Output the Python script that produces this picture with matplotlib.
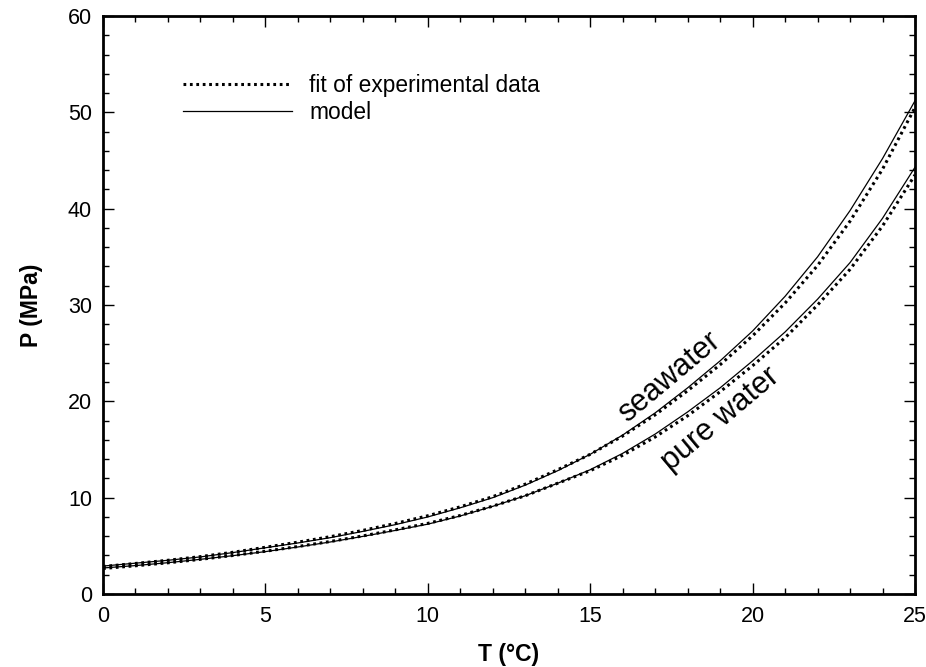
import matplotlib
matplotlib.use("Agg")
import matplotlib.pyplot as plt
from matplotlib.ticker import MultipleLocator

plt.rcParams['font.family'] = ['Liberation Sans', 'DejaVu Sans']

# Data
temperature = [0, 1, 2, 3, 4, 5, 6, 7, 8, 9, 10, 11, 12, 13, 14, 15,
               16, 17, 18, 19, 20, 21, 22, 23, 24, 25]
seawater_model = [2.90, 3.20, 3.50, 3.85, 4.30, 4.80, 5.30, 5.85, 6.50, 7.20,
                  8.00, 8.95, 10.0, 11.3, 12.8, 14.5, 16.5, 18.8, 21.4, 24.2,
                  27.3, 30.9, 35.0, 39.8, 45.2, 51.2]
seawater_fit = [2.85, 3.17, 3.50, 3.88, 4.33, 4.85, 5.38, 5.95, 6.60, 7.32,
                8.12, 9.05, 10.1, 11.4, 12.9, 14.5, 16.4, 18.6, 21.1, 23.8,
                26.8, 30.2, 34.1, 38.7, 44.1, 50.5]
pure_model = [2.70, 2.95, 3.25, 3.60, 3.98, 4.40, 4.88, 5.40, 5.98, 6.60,
              7.25, 8.10, 9.10, 10.2, 11.5, 12.9, 14.6, 16.6, 18.9, 21.4,
              24.2, 27.2, 30.6, 34.4, 39.0, 44.3]
pure_fit = [2.65, 2.93, 3.24, 3.60, 4.00, 4.44, 4.93, 5.45, 6.03, 6.66,
            7.33, 8.15, 9.12, 10.2, 11.5, 12.8, 14.4, 16.3, 18.5, 21.0,
            23.7, 26.6, 30.0, 33.7, 38.2, 43.5]

legend_labels = ["fit of experimental data", "model"]
curve_labels = ["seawater", "pure water"]
x_label = "T (°C)"
y_label = "P (MPa)"

fig = plt.figure(figsize=(9.26, 6.67), dpi=100)
ax = fig.add_axes([103/926, (667-594)/667, (915-103)/926, (594-16)/667])

dotted = (0, (0.9, 1.2))
l_fit, = ax.plot(temperature, seawater_fit, color='black', lw=2.2,
                 linestyle=dotted, label=legend_labels[0])
ax.plot(temperature, pure_fit, color='black', lw=2.2, linestyle=dotted)
l_mod, = ax.plot(temperature, seawater_model, color='black', lw=0.9,
                 label=legend_labels[1])
ax.plot(temperature, pure_model, color='black', lw=0.9)

ax.set_xlim(0, 25)
ax.set_ylim(0, 60)
ax.xaxis.set_major_locator(MultipleLocator(5))
ax.xaxis.set_minor_locator(MultipleLocator(1))
ax.yaxis.set_major_locator(MultipleLocator(10))
ax.yaxis.set_minor_locator(MultipleLocator(2))
ax.tick_params(which='both', direction='in', top=True, right=True,
               labelsize=15.5, width=1.0)
ax.tick_params(which='major', length=8)
ax.tick_params(which='minor', length=4.5)
ax.tick_params(axis='x', which='major', pad=9)
ax.tick_params(axis='y', which='major', pad=8)
for s in ax.spines.values():
    s.set_linewidth(2.0)

ax.set_xlabel(x_label, fontsize=16.5, fontweight='bold', labelpad=11)
ax.set_ylabel(y_label, fontsize=16.5, fontweight='bold', labelpad=18)

ax.text(17.45, 22.5, curve_labels[0], fontsize=22, rotation=40,
        ha='center', va='center', rotation_mode='anchor')
ax.text(19.0, 18.1, curve_labels[1], fontsize=22, rotation=40,
        ha='center', va='center', rotation_mode='anchor')

ax.legend(handles=[l_fit, l_mod], loc='upper left',
          bbox_to_anchor=(0.0985, 0.9), frameon=False, fontsize=16.4,
          handlelength=4.8, handletextpad=0.75, borderpad=0,
          borderaxespad=0, labelspacing=0.2)

fig.savefig("out.png", dpi=100)
